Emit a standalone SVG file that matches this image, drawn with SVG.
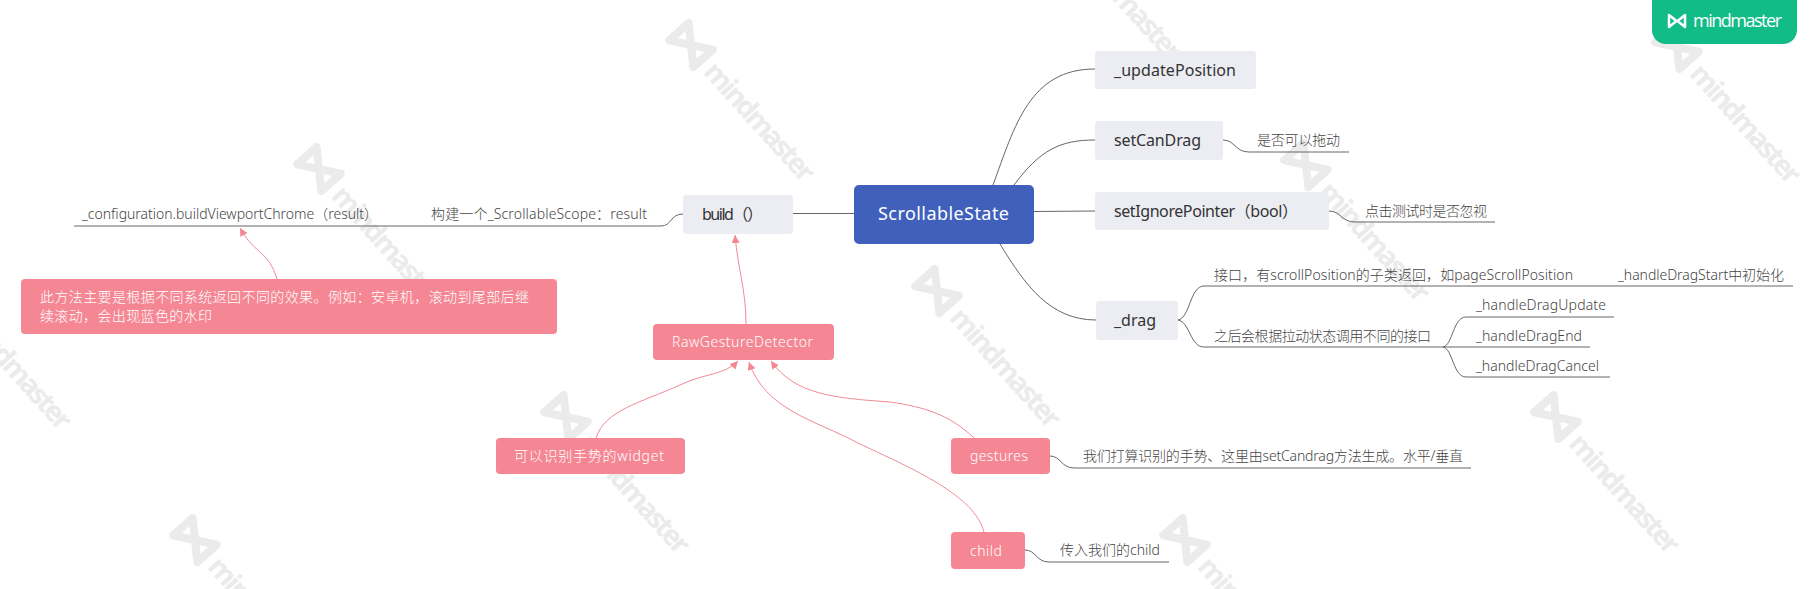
<svg xmlns="http://www.w3.org/2000/svg" width="1814" height="589" viewBox="0 0 1814 589">
<style>
text{font-family:"Noto Sans","Noto Sans CJK SC",sans-serif;white-space:pre}
.wm path{fill:none;stroke:#ebebeb;stroke-width:8;stroke-linejoin:round}
.wm text{font-size:28px;font-weight:700;fill:#ebebeb;font-family:"Open Sans","Noto Sans",sans-serif}
.gray{fill:#ecedf3}
.pink{fill:#f58794}
.t1{font-size:16px;fill:#333}
.t2{font-size:14px;fill:#444;font-weight:300}
.t3{font-size:14px;fill:#fff;font-weight:300}
#links path{fill:none;stroke:#666;stroke-width:1}
#relations path{fill:none;stroke:#f08a96;stroke-width:1;marker-end:url(#ah)}
</style>
<defs>
<marker id="ah" markerUnits="userSpaceOnUse" markerWidth="10" markerHeight="10" refX="8" refY="4" orient="auto"><path d="M0 0L8 4L0 8Z" fill="#f58794"/></marker>
</defs>
<rect width="1814" height="589" fill="#fff"/>
<g id="watermarks" transform="translate(6,-3)">
<g class="wm" transform="translate(313,172) rotate(48)"><path d="M-18-13V13L0 0ZM18-13V13L0 0Z"/><text x="28" y="10" textLength="150">mindmaster</text></g>
<g class="wm" transform="translate(685,48) rotate(48)"><path d="M-18-13V13L0 0ZM18-13V13L0 0Z"/><text x="28" y="10" textLength="150">mindmaster</text></g>
<g class="wm" transform="translate(1052,-73) rotate(48)"><path d="M-18-13V13L0 0ZM18-13V13L0 0Z"/><text x="28" y="10" textLength="150">mindmaster</text></g>
<g class="wm" transform="translate(-58,296) rotate(48)"><path d="M-18-13V13L0 0ZM18-13V13L0 0Z"/><text x="28" y="10" textLength="150">mindmaster</text></g>
<g class="wm" transform="translate(189,543) rotate(48)"><path d="M-18-13V13L0 0ZM18-13V13L0 0Z"/><text x="28" y="10" textLength="150">mindmaster</text></g>
<g class="wm" transform="translate(560,420) rotate(48)"><path d="M-18-13V13L0 0ZM18-13V13L0 0Z"/><text x="28" y="10" textLength="150">mindmaster</text></g>
<g class="wm" transform="translate(931,294) rotate(48)"><path d="M-18-13V13L0 0ZM18-13V13L0 0Z"/><text x="28" y="10" textLength="150">mindmaster</text></g>
<g class="wm" transform="translate(1300,168) rotate(48)"><path d="M-18-13V13L0 0ZM18-13V13L0 0Z"/><text x="28" y="10" textLength="150">mindmaster</text></g>
<g class="wm" transform="translate(1671,50) rotate(48)"><path d="M-18-13V13L0 0ZM18-13V13L0 0Z"/><text x="28" y="10" textLength="150">mindmaster</text></g>
<g class="wm" transform="translate(1550,420) rotate(48)"><path d="M-18-13V13L0 0ZM18-13V13L0 0Z"/><text x="28" y="10" textLength="150">mindmaster</text></g>
<g class="wm" transform="translate(1179,543) rotate(48)"><path d="M-18-13V13L0 0ZM18-13V13L0 0Z"/><text x="28" y="10" textLength="150">mindmaster</text></g>
</g>
<g id="links">
<path d="M855 213.500H793"/>
<path d="M683 214C670 214 672 226 661 226H74"/>
<path d="M993 185C1015 125 1030 69 1095 69"/>
<path d="M1014 185C1040 150 1060 140 1095 140"/>
<path d="M1034 211.500L1095 211"/>
<path d="M1000 244C1025 285 1050 320 1096 320"/>
<path d="M1223 140C1235 140 1235 152 1249 152H1349"/>
<path d="M1329 211C1341 211 1341 222 1355 222H1495"/>
<path d="M1178 320C1190 318 1190 286 1204 286H1793"/>
<path d="M1178 320C1190 322 1190 347 1204 347H1443"/>
<path d="M1443 347C1453 345 1453 317 1466 317H1614"/>
<path d="M1443 347H1590"/>
<path d="M1443 347C1453 349 1453 377 1466 377H1610"/>
<path d="M1050 456C1061 456 1061 468 1074 468H1471"/>
<path d="M1025 550C1036 550 1036 562 1049 562H1169"/>
</g>
<g id="relations">
<path d="M277 279C268 250 255 255 240 228"/>
<path d="M746 324C746 290 738 270 735 235"/>
<path d="M596 438C605 410 640 403 680 385C705 373 725 375 738 361"/>
<path d="M974 438C950 415 925 407 890 402C835 398 795 395 771 361"/>
<path d="M984 532C974 495 915 470 858 443C815 420 765 410 749 362"/>
</g>
<g id="root"><rect x="854" y="185" width="180" height="59" rx="5" fill="#4060bc"/><text x="878" y="220" font-size="18" fill="#fff" textLength="131">ScrollableState</text></g>
<g id="build"><rect class="gray" x="683" y="195" width="110" height="39" rx="4"/><text class="t1" x="702" y="220" textLength="61">build（）</text></g>
<g id="updatePosition"><rect class="gray" x="1095" y="51" width="161" height="38" rx="3"/><text class="t1" x="1114" y="76" textLength="122">_updatePosition</text></g>
<g id="setCanDrag"><rect class="gray" x="1095" y="121" width="128" height="39" rx="3"/><text class="t1" x="1114" y="146" textLength="87">setCanDrag</text></g>
<g id="setIgnorePointer"><rect class="gray" x="1095" y="192" width="234" height="38" rx="3"/><text class="t1" x="1114" y="217" textLength="184">setIgnorePointer（bool）</text></g>
<g id="drag"><rect class="gray" x="1096" y="301" width="82" height="39" rx="3"/><text class="t1" x="1114" y="326" textLength="42">_drag</text></g>
<g id="canDragNote"><text class="t2" x="1257" y="145" textLength="83">是否可以拖动</text></g>
<g id="ignoreNote"><text class="t2" x="1365" y="216" textLength="122">点击测试时是否忽视</text></g>
<g id="dragInterface"><text class="t2" x="1214" y="280" textLength="359">接口，有scrollPosition的子类返回，如pageScrollPosition</text></g>
<g id="dragStart"><text class="t2" x="1618" y="280" textLength="166">_handleDragStart中初始化</text></g>
<g id="dragStates"><text class="t2" x="1214" y="341" textLength="217">之后会根据拉动状态调用不同的接口</text></g>
<g id="dragUpdate"><text class="t2" x="1476" y="310" textLength="130">_handleDragUpdate</text></g>
<g id="dragEnd"><text class="t2" x="1476" y="341" textLength="106">_handleDragEnd</text></g>
<g id="dragCancel"><text class="t2" x="1476" y="371" textLength="123">_handleDragCancel</text></g>
<g id="viewportChrome"><text class="t2" x="82" y="219" textLength="296">_configuration.buildViewportChrome（result）</text></g>
<g id="scope"><text class="t2" x="431" y="219" textLength="216">构建一个_ScrollableScope：result</text></g>
<g id="note"><rect class="pink" x="21" y="279" width="536" height="55" rx="4"/><text class="t3" x="40" y="302" textLength="489">此方法主要是根据不同系统返回不同的效果。例如：安卓机，滚动到尾部后继</text><text class="t3" x="40" y="321" textLength="172">续滚动，会出现蓝色的水印</text></g>
<g id="rawGesture"><rect class="pink" x="653" y="324" width="181" height="36" rx="4"/><text class="t3" x="672" y="347" textLength="141">RawGestureDetector</text></g>
<g id="widget"><rect class="pink" x="496" y="438" width="189" height="36" rx="4"/><text class="t3" x="514" y="461" textLength="150">可以识别手势的widget</text></g>
<g id="gestures"><rect class="pink" x="951" y="438" width="99" height="36" rx="4"/><text class="t3" x="970" y="461" textLength="58">gestures</text></g>
<g id="child"><rect class="pink" x="951" y="532" width="74" height="37" rx="4"/><text class="t3" x="970" y="556" textLength="32">child</text></g>
<g id="gesturesNote"><text class="t2" x="1083" y="461" textLength="380">我们打算识别的手势、这里由setCandrag方法生成。水平/垂直</text></g>
<g id="childNote"><text class="t2" x="1060" y="555" textLength="100">传入我们的child</text></g>
<g id="logo"><path d="M1652 0H1797V30A14 14 0 0 1 1783 44H1666A14 14 0 0 1 1652 30Z" fill="#12bc87"/><path d="M1669 15V27L1676.500 21ZM1685 15V27L1677.500 21Z" fill="none" stroke="#fff" stroke-width="2.500" stroke-linejoin="round"/><text x="1693" y="27" font-size="18" fill="#fff" textLength="89" style="font-family:'Open Sans',sans-serif">mindmaster</text></g>
</svg>
